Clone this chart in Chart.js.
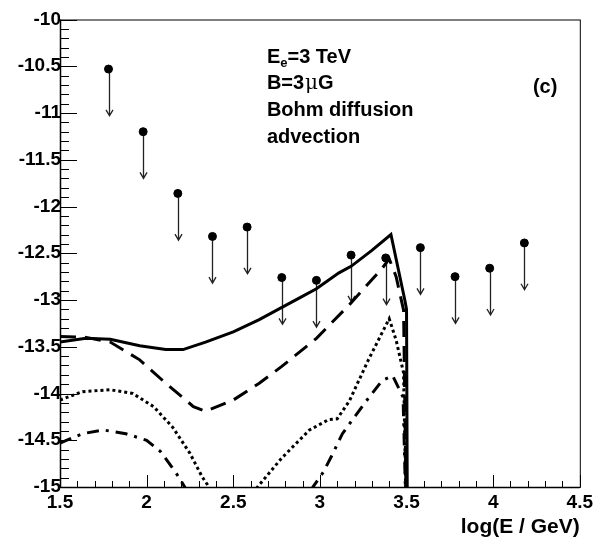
<!DOCTYPE html>
<html lang="en">
<head>
<meta charset="UTF-8">
<title>Bohm diffusion, advection (c)</title>
<script src="https://cdn.jsdelivr.net/npm/chart.js@4"></script>
<style>
  html, body { margin: 0; padding: 0; background: #fff; }
  canvas { display: block; }
</style>
</head>
<body>
<canvas id="c" width="597" height="540"></canvas>
<script>
// upper limits (log E, log flux)
const limX = [1.78, 1.98, 2.18, 2.38, 2.58, 2.78, 2.98, 3.18, 3.38, 3.58, 3.78, 3.98, 4.18];
const limY = [-10.53, -11.20, -11.86, -12.32, -12.22, -12.76, -12.79, -12.52, -12.55, -12.44, -12.75, -12.66, -12.39];

// model curves
const solidX = [1.5, 1.65, 1.79, 1.96, 2.11, 2.21, 2.34, 2.50, 2.65, 2.77, 2.88, 2.98, 3.11, 3.18, 3.30, 3.41, 3.49, 3.50, 3.505];
const solidY = [-13.45, -13.41, -13.42, -13.49, -13.53, -13.53, -13.45, -13.34, -13.21, -13.09, -12.98, -12.88, -12.71, -12.64, -12.47, -12.30, -13.00, -13.10, -15.5];

const dashX = [1.5, 1.65, 1.79, 1.96, 2.11, 2.27, 2.34, 2.50, 2.65, 2.78, 2.98, 3.17, 3.36, 3.40, 3.44, 3.483, 3.50];
const dashY = [-13.39, -13.40, -13.45, -13.64, -13.89, -14.14, -14.19, -14.07, -13.89, -13.71, -13.41, -13.05, -12.66, -12.56, -12.75, -13.11, -15.5];

const dotX = [1.5, 1.63, 1.79, 1.92, 2.04, 2.15, 2.25, 2.32, 2.36, 2.40, 2.60, 2.64, 2.78, 2.94, 3.05, 3.10, 3.17, 3.28, 3.40, 3.44, 3.483, 3.50];
const dotY = [-14.07, -13.98, -13.96, -14.00, -14.14, -14.36, -14.64, -14.89, -15.0, -15.3, -15.3, -15.0, -14.69, -14.39, -14.28, -14.27, -14.08, -13.64, -13.20, -13.43, -13.78, -15.5];

const dashDotX = [1.5, 1.63, 1.75, 1.88, 2.00, 2.08, 2.17, 2.22, 2.26, 2.92, 2.96, 3.02, 3.07, 3.13, 3.20, 3.28, 3.36, 3.42, 3.48, 3.50];
const dashDotY = [-14.53, -14.43, -14.39, -14.43, -14.50, -14.62, -14.85, -15.0, -15.3, -15.3, -15.0, -14.84, -14.66, -14.43, -14.25, -14.05, -13.86, -13.81, -14.04, -15.5];

const xMin = 1.5, xMax = 4.5, yMin = -15, yMax = -10;

const FONT = '"Liberation Sans", Arial, Helvetica, sans-serif';

const pts = (xs, ys) => xs.map((x, i) => ({ x: x, y: ys[i] }));
const tickText = v => String(Math.round(v * 10) / 10);

function curve(xs, ys, dash) {
    return {
        type: 'line',
        data: pts(xs, ys),
        borderColor: '#000',
        borderWidth: 3,
        borderDash: dash,
        pointRadius: 0,
        tension: 0,
        clip: 0,
        order: 2
    };
}

// ROOT-style frame with inward ticks
const rootFrame = {
    id: 'rootFrame',
    afterDraw(chart) {
        const { ctx, chartArea: a, scales: { x, y } } = chart;
        ctx.save();
        ctx.strokeStyle = '#000';
        ctx.lineWidth = 1;
        ctx.strokeRect(a.left + 0.5, a.top + 0.5, a.right - a.left, a.bottom - a.top);
        ctx.lineWidth = 1.5;
        ctx.beginPath();
        ctx.moveTo(a.left + 0.5, a.top);
        ctx.lineTo(a.left + 0.5, a.bottom + 0.5);
        ctx.lineTo(a.right, a.bottom + 0.5);
        ctx.stroke();
        ctx.lineWidth = 1;
        ctx.beginPath();
        for (let i = 0; i <= 50; i++) {
            const py = Math.round(y.getPixelForValue(yMin + i * 0.1)) + 0.5;
            const len = i % 5 === 0 ? 17 : 9;
            ctx.moveTo(a.left, py);
            ctx.lineTo(a.left + len, py);
        }
        for (let i = 0; i <= 30; i++) {
            const px = Math.round(x.getPixelForValue(xMin + i * 0.1)) + 0.5;
            const len = i % 5 === 0 ? 12 : 6;
            ctx.moveTo(px, a.bottom);
            ctx.lineTo(px, a.bottom - len);
        }
        ctx.stroke();
        ctx.restore();
    }
};

// downward arrows for the upper limits
const limitArrows = {
    id: 'limitArrows',
    beforeDatasetsDraw(chart) {
        const { ctx, scales: { x, y } } = chart;
        ctx.save();
        ctx.strokeStyle = '#222';
        ctx.lineWidth = 1.3;
        limX.forEach((lx, i) => {
            const px = Math.round(x.getPixelForValue(lx)) + 0.5;
            const y0 = y.getPixelForValue(limY[i]);
            const y1 = y.getPixelForValue(limY[i] - 0.5);
            ctx.beginPath();
            ctx.moveTo(px, y0);
            ctx.lineTo(px, y1);
            ctx.moveTo(px - 3.5, y1 - 6);
            ctx.lineTo(px, y1);
            ctx.lineTo(px + 3.5, y1 - 6);
            ctx.stroke();
        });
        ctx.restore();
    }
};

// text labels inside the frame
const panelText = {
    id: 'panelText',
    afterDraw(chart) {
        const { ctx, scales: { x, y } } = chart;
        ctx.save();
        ctx.fillStyle = '#000';
        ctx.textBaseline = 'alphabetic';
        ctx.textAlign = 'left';
        const bold = 'bold 20px ' + FONT;
        const x0 = x.getPixelForValue(2.694);
        let yy = y.getPixelForValue(-10.46);
        ctx.font = bold;
        ctx.fillText('E', x0, yy);
        let w = ctx.measureText('E').width;
        ctx.font = 'bold 13px ' + FONT;
        ctx.fillText('e', x0 + w, yy + 4);
        w += ctx.measureText('e').width;
        ctx.font = bold;
        ctx.fillText('=3 TeV', x0 + w, yy);

        yy = y.getPixelForValue(-10.745);
        ctx.fillText('B=3', x0, yy);
        w = ctx.measureText('B=3').width;
        ctx.font = '20px "DejaVu Serif", serif';
        ctx.fillText('\u03bc', x0 + w + 1, yy);
        w += ctx.measureText('\u03bc').width + 1;
        ctx.font = bold;
        ctx.fillText('G', x0 + w, yy);

        ctx.fillText('Bohm diffusion', x0, y.getPixelForValue(-11.03));
        ctx.fillText('advection', x0, y.getPixelForValue(-11.32));

        ctx.textAlign = 'center';
        ctx.fillText('(c)', x.getPixelForValue(4.30), y.getPixelForValue(-10.79));
        ctx.restore();
    }
};

new Chart(document.getElementById('c'), {
    type: 'line',
    data: {
        datasets: [
            curve(solidX, solidY, []),
            curve(dashX, dashY, [16, 9]),
            curve(dotX, dotY, [3, 3]),
            curve(dashDotX, dashDotY, [12, 7, 3, 7]),
            {
                type: 'scatter',
                data: pts(limX, limY),
                backgroundColor: '#000',
                borderColor: '#000',
                pointRadius: 4,
                pointHoverRadius: 4,
                showLine: false,
                order: 1
            }
        ]
    },
    options: {
        responsive: false,
        animation: false,
        events: [],
        layout: { padding: { top: 19.5, right: 15, left: 0, bottom: 0 } },
        plugins: {
            legend: { display: false },
            tooltip: { enabled: false }
        },
        scales: {
            x: {
                type: 'linear',
                min: xMin,
                max: xMax,
                grid: { display: false, drawTicks: false },
                border: { display: false },
                ticks: {
                    stepSize: 0.5,
                    autoSkip: false,
                    maxRotation: 0,
                    padding: 4,
                    color: '#000',
                    font: { family: FONT, size: 19, weight: 'bold' },
                    callback: tickText
                },
                title: {
                    display: true,
                    text: 'log(E / GeV)',
                    align: 'end',
                    color: '#000',
                    padding: { top: 0, bottom: 0 },
                    font: { family: FONT, size: 21, weight: 'bold' }
                },
                afterFit(scale) { scale.height = 53; }
            },
            y: {
                type: 'linear',
                min: yMin,
                max: yMax,
                grid: { display: false, drawTicks: false },
                border: { display: false },
                ticks: {
                    stepSize: 0.5,
                    autoSkip: false,
                    padding: -1,
                    color: '#000',
                    font: { family: FONT, size: 19, weight: 'bold' },
                    callback: tickText
                },
                afterFit(scale) { scale.width = 60; }
            }
        }
    },
    plugins: [limitArrows, rootFrame, panelText]
});
</script>
</body>
</html>
